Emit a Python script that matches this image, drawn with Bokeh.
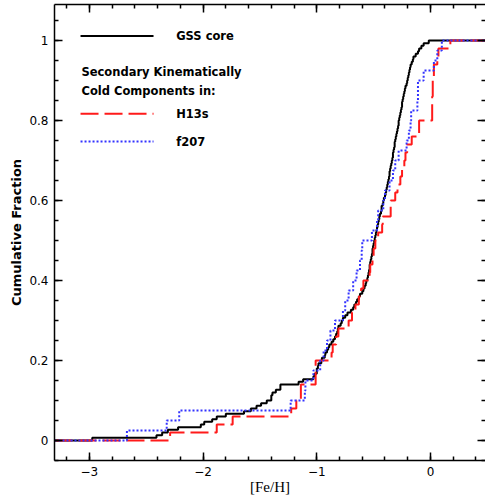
from bokeh.plotting import figure
from bokeh.models import LinearAxis, FixedTicker, CustomJSTickFormatter, Range1d
from bokeh.core.properties import value
from bokeh.embed import file_html
from bokeh.resources import INLINE

# [Fe/H] of the stars in each sample
gss_core_feh = [
    -2.975, -2.41, -2.36, -2.31, -2.22, -2.02, -1.99, -1.92, -1.88, -1.80,
    -1.64, -1.58, -1.53, -1.49, -1.44, -1.40, -1.40, -1.39, -1.36, -1.32,
    -1.32, -1.16, -1.12, -1.03, -1.02, -1.00, -1.00, -0.99, -0.985, -0.96,
    -0.955, -0.93, -0.925, -0.91, -0.90, -0.89, -0.87, -0.855, -0.84, -0.83,
    -0.82, -0.815, -0.81, -0.79, -0.78, -0.77, -0.75, -0.73, -0.70, -0.68,
    -0.67, -0.655, -0.645, -0.63, -0.62, -0.60, -0.59, -0.58, -0.57, -0.565,
    -0.555, -0.55, -0.545, -0.54, -0.535, -0.535, -0.53, -0.525, -0.52, -0.515,
    -0.51, -0.51, -0.505, -0.50, -0.495, -0.49, -0.485, -0.48, -0.475, -0.47,
    -0.465, -0.46, -0.455, -0.45, -0.445, -0.435, -0.43, -0.43, -0.42, -0.415,
    -0.41, -0.40, -0.395, -0.39, -0.385, -0.38, -0.375, -0.37, -0.365, -0.36,
    -0.36, -0.355, -0.35, -0.345, -0.34, -0.335, -0.33, -0.33, -0.325, -0.32,
    -0.315, -0.315, -0.31, -0.305, -0.30, -0.295, -0.29, -0.285, -0.28, -0.28,
    -0.275, -0.27, -0.265, -0.26, -0.255, -0.25, -0.25, -0.245, -0.24, -0.235,
    -0.23, -0.225, -0.22, -0.21, -0.205, -0.20, -0.195, -0.19, -0.185, -0.18,
    -0.175, -0.165, -0.155, -0.15, -0.13, -0.11, -0.10, -0.08, -0.06, -0.015,
]

h13s_feh = [
    -2.29, -1.88, -1.74, -1.225, -1.18, -1.14, -1.14, -1.01, -1.01, -1.01,
    -0.87, -0.86, -0.83, -0.81, -0.72, -0.69, -0.66, -0.63, -0.61, -0.59,
    -0.535, -0.53, -0.51, -0.50, -0.485, -0.46, -0.425, -0.42, -0.35, -0.35,
    -0.31, -0.29, -0.265, -0.25, -0.23, -0.22, -0.205, -0.165, -0.10, -0.10,
    0.015, 0.015, 0.015, 0.02, 0.02, 0.03, 0.03, 0.06, 0.07, 0.175,
]

f207_feh = [
    -2.67, -2.32, -2.21, -1.23, -1.105, -1.10, -1.03, -0.97, -0.94, -0.91,
    -0.88, -0.84, -0.77, -0.75, -0.72, -0.68, -0.65, -0.62, -0.605, -0.60,
    -0.515, -0.47, -0.46, -0.415, -0.40, -0.36, -0.33, -0.31, -0.28, -0.21,
    -0.19, -0.175, -0.17, -0.115, -0.11, -0.11, -0.06, 0.03, 0.06, 0.10,
]

x_major_ticks = [-3, -2, -1, 0]
y_major_ticks = [0, 0.2, 0.4, 0.6, 0.8, 1]

X_MIN, X_MAX = -3.307, 0.484
Y_MIN, Y_MAX = -0.05, 1.09

x_minor_ticks = [round(-3.2 + 0.2 * i, 2) for i in range(19)]
y_minor_ticks = [round(-0.05 + 0.05 * i, 2) for i in range(23)]


def ecdf(vals):
    """Cumulative-fraction step curve spanning the full x range."""
    v = sorted(vals)
    n = len(v)
    xs = [X_MIN] + v + [X_MAX]
    ys = [0.0] + [(i + 1) / n for i in range(n)] + [1.0]
    return xs, ys


p = figure(
    width=485, height=497,
    x_range=Range1d(X_MIN, X_MAX), y_range=Range1d(Y_MIN, Y_MAX),
    output_backend="svg", toolbar_location=None,
    min_border_left=54, min_border_right=0, min_border_top=4, min_border_bottom=0,
)
p.xgrid.visible = False
p.ygrid.visible = False
p.outline_line_color = None
p.background_fill_color = "white"

x_ticker = FixedTicker(ticks=x_major_ticks, minor_ticks=x_minor_ticks)
y_ticker = FixedTicker(ticks=y_major_ticks, minor_ticks=y_minor_ticks)

x_fmt = CustomJSTickFormatter(code="return tick < 0 ? '\u2212' + Math.abs(tick) : String(tick);")
y_fmt = CustomJSTickFormatter(code="return (tick == 0 || tick == 1) ? String(tick) : tick.toFixed(1);")
blank_fmt = CustomJSTickFormatter(code="return '';")


def style_axis(ax):
    ax.major_tick_in = 8
    ax.major_tick_out = 0
    ax.minor_tick_in = 4
    ax.minor_tick_out = 0
    ax.axis_line_width = 1.5
    ax.major_tick_line_width = 1.5
    ax.minor_tick_line_width = 1.5
    ax.axis_line_color = "black"
    ax.major_tick_line_color = "black"
    ax.minor_tick_line_color = "black"
    ax.major_label_text_font = "DejaVu Sans"
    ax.major_label_text_font_size = "12px"
    ax.major_label_text_color = "black"
    ax.axis_label_text_color = "black"


xa = p.xaxis[0]
xa.ticker = x_ticker
xa.formatter = x_fmt
style_axis(xa)
xa.major_label_standoff = 6
xa.axis_label = "[Fe/H]"
xa.axis_label_text_font = "Liberation Serif"
xa.axis_label_text_font_size = "15px"
xa.axis_label_text_font_style = "normal"
xa.axis_label_standoff = 0

ya = p.yaxis[0]
ya.ticker = y_ticker
ya.formatter = y_fmt
style_axis(ya)
ya.major_label_standoff = 6
ya.axis_label = "Cumulative Fraction"
ya.axis_label_text_font = "DejaVu Sans"
ya.axis_label_text_font_size = "13px"
ya.axis_label_text_font_style = "bold"
ya.axis_label_standoff = 2

top = LinearAxis(ticker=x_ticker, formatter=blank_fmt)
style_axis(top)
top.major_label_text_font_size = "0px"
top.major_label_standoff = 0
p.add_layout(top, "above")

right = LinearAxis(ticker=y_ticker, formatter=blank_fmt)
style_axis(right)
right.major_label_text_font_size = "0px"
right.major_label_standoff = 0
right.axis_line_color = None
p.add_layout(right, "right")

# cumulative distributions
gx, gy = ecdf(gss_core_feh)
p.step(gx, gy, mode="after", line_color="black", line_width=2)
hx, hy = ecdf(h13s_feh)
p.step(hx, hy, mode="after", line_color="#ff1a1a", line_width=2, line_dash="18 6")
fx, fy = ecdf(f207_feh)
p.step(fx, fy, mode="after", line_color="#3333ff", line_width=2, line_dash="2 2")

# key
p.segment(x0=[-3.078], y0=[1.011], x1=[-2.436], y1=[1.011], line_color="black", line_width=2)
p.segment(x0=[-3.078], y0=[0.817], x1=[-2.436], y1=[0.817], line_color="#ff1a1a",
          line_width=2, line_dash="18 6")
p.segment(x0=[-3.078], y0=[0.7475], x1=[-2.436], y1=[0.7475], line_color="#3333ff",
          line_width=2, line_dash="2 2")

key_font = dict(text_font=value("DejaVu Sans"), text_font_size=value("11.5px"),
                text_font_style="bold", text_baseline="middle", text_align="left",
                text_color="black")
p.text(x=[-2.237], y=[1.011], text=["GSS core"], **key_font)
p.text(x=[-3.07], y=[0.921], text=["Secondary Kinematically"], **key_font)
p.text(x=[-3.07], y=[0.875], text=["Cold Components in:"], **key_font)
p.text(x=[-2.237], y=[0.817], text=["H13s"], **key_font)
p.text(x=[-2.237], y=[0.7475], text=["f207"], **key_font)

open("out.html", "w").write(file_html(p, INLINE))
